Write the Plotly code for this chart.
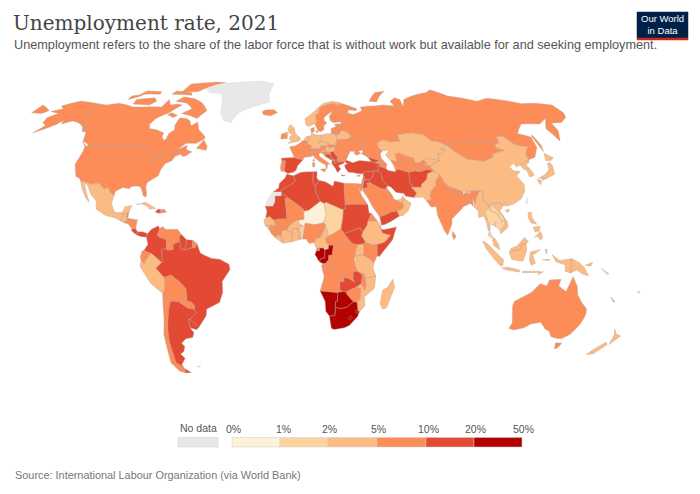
import numpy as np
import plotly.graph_objects as go

# Unemployment rate 2021, read by colour from the picture (percent)
iso_codes = ['USA','CAN','MEX','GTM','BLZ','HND','SLV','NIC','CRI','PAN','CUB','HTI','DOM',
             'COL','VEN','GUY','SUR','ECU','PER','BOL','CHL','ARG','PRY','URY','BRA',
             'ISL','GBR','IRL','FRA','ESP','PRT','BEL','NLD','DEU','CHE','AUT','ITA','DNK','NOR','SWE','FIN',
             'EST','LVA','LTU','BLR','POL','CZE','SVK','HUN','UKR','MDA','ROU','BGR','GRC','ALB','SRB','BIH',
             'HRV','SVN','MNE','MKD','CYP','RUS','GEO','ARM','AZE','TUR','SYR','LBN','ISR','JOR','IRQ','KWT',
             'SAU','ARE','OMN','YEM','IRN','AFG','PAK','IND','BGD','NPL','BTN','LKA','CHN','MNG','KAZ','UZB',
             'TKM','KGZ','TJK','MMR','THA','LAO','VNM','KHM','MYS','IDN','PNG','PHL','JPN','PRK','KOR',
             'MAR','DZA','TUN','LBY','EGY','SDN','SSD','ERI','ETH','DJI','SOM','KEN','UGA','TZA','RWA','COD',
             'COG','GAB','GNQ','CMR','CAF','TCD','NER','NGA','BEN','TGO','GHA','BFA','CIV','LBR','SLE','GIN',
             'GNB','SEN','MLI','MRT','AGO','ZMB','MWI','MOZ','ZWE','BWA','NAM','ZAF','LSO','SWZ','MDG',
             'AUS','NZL','NCL','SLB','FJI']
rates = [5.4,7.5,4.4,3.0,7.0,7.0,6.0,6.0,16.0,13.0,2.0,14.0,7.0,
         13.9,6.0,15.0,10.5,5.5,4.8,7.0,9.0,10.9,7.0,10.5,13.3,
         6.0,4.5,6.2,7.9,14.8,6.6,6.3,4.2,3.6,5.3,6.2,9.5,5.0,4.4,8.7,7.6,
         6.2,7.5,7.1,4.8,3.4,2.8,6.8,4.1,9.8,3.3,5.6,5.3,14.8,12.0,11.0,15.0,
         7.6,4.8,16.0,16.0,7.5,5.2,11.0,12.0,6.0,12.0,10.5,12.0,5.0,19.0,14.0,3.0,
         7.4,3.1,3.0,13.4,11.5,13.0,4.4,6.0,5.2,5.1,3.4,5.4,4.6,6.0,4.9,6.0,
         5.0,4.5,7.0,3.0,1.0,1.3,2.4,1.2,4.6,4.4,2.7,2.5,2.8,2.6,3.6,
         12.0,14.0,16.0,19.0,7.4,19.0,12.7,6.0,3.7,4.0,19.0,5.7,2.9,2.6,1.5,5.4,
         23.0,21.5,8.0,3.9,6.5,1.9,0.7,9.8,1.5,3.9,4.7,4.8,3.5,4.0,5.0,6.3,
         3.2,3.7,7.7,11.0,8.5,13.0,6.0,3.8,5.2,24.0,21.0,33.6,24.0,23.0,2.6,
         5.1,4.1,6.0,1.5,4.5]
no_data_codes = ['GRL', 'ESH', 'TWN', 'FLK']

# legend bins
bin_edges = [0, 1, 2, 5, 10, 20, 50]
bin_labels = ['0%', '1%', '2%', '5%', '10%', '20%', '50%']
bin_colors = ['#fef0d9', '#fdd49e', '#fdbb84', '#fc8d59', '#e34a33', '#b30000']
no_data_color = '#e8e8e8'

# rough country outlines, lon,lat
outlines = {
 'USA': ["-124.7,48.4 -123,49 -110,49 -95,49 -89.5,48 -88,48.2 -84.5,46.5 -82.5,45.3 -82.4,43 -83,42 -79,42.8 -79,43.5 -76.5,44 -75,45 -71.5,45 -70,46.7 -68.3,47.3 -67,45 -70,43.7 -70.7,42 -74,40.7 -75.5,38 -76,35 -78,33.9 -81,32 -81.3,30 -80,26.8 -80.3,25.3 -81.7,26 -82.8,28 -84,30 -86,30.4 -89,30.2 -90,29.2 -93.5,29.7 -97,28 -97.2,26 -99.5,27.5 -101.5,29.8 -103,29 -104.7,30 -106.5,31.8 -108.2,31.5 -111,31.3 -114.8,32.5 -117.1,32.5 -118.5,34 -120.6,34.6 -122.5,37.5 -124.3,40.4 -124,44 -124,46.3",
         "-141,69.6 -141,60.3 -137.5,58.9 -135,59.5 -131,55.5 -133,55.5 -136,58 -140,59.7 -146,60.8 -151,59.3 -152,61 -154,59 -158,57 -163,55 -160,58.5 -164,60 -165,62.5 -161,64.5 -168,65.6 -162,67 -166,68.5 -157,71.2 -150,70.5"],
 'CAN': ["-141,69.6 -135,69 -128,70 -115,68 -108,68 -95,68 -94,72 -90,69 -85,69.5 -81.5,69 -87,65 -93,62 -94.5,59 -92.5,57 -88,56.5 -82.5,55 -82,53 -80,51.3 -79,52 -79,54.5 -76.7,56.5 -78,58.8 -77.5,62.4 -73,62 -70,61 -67.5,58.4 -64.5,60.3 -61.5,56.5 -56,53 -56,52 -60,50 -66,50 -70,47 -65,49 -64.5,47 -61,46 -64,44 -66,44 -67,45 -68.3,47.3 -70,46.7 -71.5,45 -75,45 -76.5,44 -79,43.5 -79,42.8 -83,42 -82.4,43 -82.5,45.3 -84.5,46.5 -88,48.2 -89.5,48 -95,49 -110,49 -123,49 -125,50 -128,51 -130,54.5 -131,55.5 -135,59.5 -137.5,58.9 -141,60.3",
         "-62,66 -66,62 -72,63.5 -78,64.5 -73,67 -79,70 -88,71 -85,73.5 -76,72.5 -68,70",
         "-117,69.5 -105,69 -102,71 -106,73 -118,72", "-90,76.5 -78,76.5 -62,82.5 -70,83 -90,81.5",
         "-124,72 -118,74 -117,75 -125,74", "-96,75 -80,74.5 -82,76 -95,77", "-59,47.7 -53,46.7 -53,48.5 -56,51.5",
         "-128,50.7 -123.5,48.4 -125,48.7", "-120,75 -105,75 -106,76.5 -118,77", "-85,65 -80,63.5 -82,62.5 -87,64"],
 'MEX': ["-117.1,32.5 -114.8,32.5 -111,31.3 -108.2,31.5 -106.5,31.8 -104.7,30 -103,29 -101.5,29.8 -99.5,27.5 -97.2,26 -97.8,22.5 -96,19 -94.5,18.2 -91.5,18.5 -90.5,21 -87,21.5 -88,18.5 -89,17.9 -91,17.8 -92,14.6 -95,16 -100,17 -105.5,20 -106,23.5 -109.5,26.5 -113,31 -114.8,31.8 -112,27 -109.7,23 -112,25 -115,29"],
 'GTM': ["-92,14.6 -91,17.8 -89,17.9 -89,15.9 -88.2,15.7 -89.3,14.4 -90,13.7"],
 'BLZ': ["-89,17.9 -88,18.5 -88.2,16 -89,15.9"],
 'HND': ["-88.2,15.7 -83.2,15 -84.5,14.7 -87,13 -87.8,13.3 -89.3,14.4"],
 'SLV': ["-89.3,14.4 -87.8,13.3 -90,13.7"],
 'NIC': ["-83.2,15 -83.7,11 -85.7,11 -87.6,13 -87,13 -84.5,14.7"],
 'CRI': ["-83.7,11 -82.6,9.6 -83,8.2 -85.7,10 -85.7,11"],
 'PAN': ["-82.6,9.6 -79.5,9.5 -77.4,8.7 -77.9,7.2 -80.5,7.3 -83,8.2"],
 'CUB': ["-84.9,21.9 -80,23 -74.2,20.2 -77.7,19.9 -78,20.7 -82,22.4"],
 'HTI': ["-74.4,18.5 -72,18 -71.7,19.7 -73,19.9"],
 'DOM': ["-71.7,19.7 -72,18 -68.5,18.5 -69.5,19.7"],
 'COL': ["-77.4,8.7 -75.5,10.7 -72,12.3 -71.3,11 -72.4,8 -71,7 -67.5,6 -67.5,2 -70,1.5 -69.5,-4.3 -70,-4.3 -70.5,-3.8 -75.2,-0.1 -77.5,0.4 -78.8,1.4 -77,3.8 -77.9,7.2"],
 'VEN': ["-71.3,11 -70,12 -68,10.6 -62,10.7 -60,8.5 -61,7 -60.7,5.2 -64,4 -64,1.5 -67,1.2 -67.5,2 -67.5,6 -71,7 -72.4,8"],
 'GUY': ["-60,8.5 -57.2,6 -57.3,3.3 -58.5,1.3 -60,2 -60.7,5.2 -61,7"],
 'SUR': ["-57.2,6 -54,5.8 -54.3,2.3 -56,1.9 -58.5,1.3 -57.3,3.3"],
 'ECU': ["-80.9,-2 -80,0.8 -78.8,1.4 -77.5,0.4 -75.2,-0.1 -78.3,-3.4 -79,-5 -80.4,-3.4"],
 'PER': ["-80.4,-3.4 -79,-5 -78.3,-3.4 -75.2,-0.1 -70.5,-3.8 -70,-4.3 -73,-7 -70.6,-9.5 -69,-11 -69,-12.5 -69,-16 -69.6,-17.3 -70.4,-18.3 -76,-14 -81.2,-6"],
 'BOL': ["-69,-11 -65.3,-10 -60.5,-13.7 -58,-16.3 -58,-20 -62.6,-22.2 -66.2,-21.8 -67.2,-22.8 -68.5,-19 -69.6,-17.3 -69,-16 -69,-12.5"],
 'CHL': ["-70.4,-18.3 -69.6,-17.3 -68.5,-19 -67.2,-22.8 -68.3,-26 -70.3,-33 -71.5,-39 -71.7,-44 -72,-50 -69,-52 -68.6,-52.5 -68.6,-54.9 -72,-54 -75,-50 -74,-43 -73.5,-37 -71.5,-30"],
 'ARG': ["-66.2,-21.8 -62.6,-22.2 -57.7,-25.2 -54.6,-25.6 -53.8,-27.2 -57.6,-30.2 -58.5,-30.2 -58.3,-34 -56.8,-36.3 -58,-38.4 -62,-39 -65,-41 -63.7,-42.5 -65.3,-45 -67.5,-46 -65.7,-48 -69,-51 -68.4,-52.3 -69,-52 -72,-50 -71.7,-44 -71.5,-39 -70.3,-33 -68.3,-26 -67.2,-22.8",
         "-68.6,-52.7 -65.2,-54.7 -68.6,-54.9"],
 'PRY': ["-62.6,-22.2 -58,-20 -58,-22 -55.8,-22.3 -54.3,-24 -54.6,-25.6 -57.7,-27.3 -58.2,-27.2 -57.7,-25.2"],
 'URY': ["-58.5,-30.2 -57.6,-30.2 -53.4,-33.7 -55,-34.9 -58.3,-34"],
 'BRA': ["-51.7,4.2 -50,0 -48,-1 -44,-2.5 -40,-2.9 -35.3,-5.2 -34.8,-7.5 -39,-13 -39,-18 -41,-22.5 -48,-25.5 -48.7,-28.5 -53.4,-33.7 -57.6,-30.2 -53.8,-27.2 -54.6,-25.6 -54.3,-24 -55.8,-22.3 -58,-22 -58,-20 -58,-16.3 -60.5,-13.7 -65.3,-10 -69,-11 -70.6,-9.5 -73,-7 -70,-4.3 -69.5,-4.3 -70,1.5 -67.5,2 -67,1.2 -64,1.5 -64,4 -60.7,5.2 -60,2 -58.5,1.3 -56,1.9 -54.3,2.3 -52.7,2.3"],
 'ISL': ["-24,65.5 -22,66.4 -16,66.5 -13.6,65 -18,63.4 -22.7,63.9"],
 'GBR': ["-5.7,50 -1,50.7 1.4,51.2 1.7,52.7 0,53.5 -1.7,55.5 -2,57.6 -4,57.7 -3,58.6 -5,58.6 -6,56.5 -5,55 -3,54 -4.5,53.3 -5,51.7 -3,51.4",
         "-7.3,55.2 -8,54.5 -6.3,54.1 -5.5,54.5 -6,55.2"],
 'IRL': ["-10,52 -6.3,52.2 -6,53.8 -6.3,54.1 -8,54.5 -7.3,55.2 -10,54.2"],
 'FRA': ["-1.8,43.4 -4.7,48.4 -1.5,48.7 1.5,50.1 2.6,51 4.2,50 6,49.5 8.2,49 7.6,47.6 6,46.3 7,45.9 7,45.5 7.5,43.8 4,43.5 3.1,42.4 0.7,42.7",
         "8.6,42 9.4,43 9.3,41.4", "-54,5.8 -51.7,4.2 -52.7,2.3 -54.3,2.3"],
 'ESP': ["-9.2,43 -1.8,43.4 0.7,42.7 3.1,42.4 0,39.5 -0.7,37.7 -2,36.8 -5.4,36.1 -7.4,37.2 -7,39 -6.8,41.9 -8.8,41.9"],
 'PRT': ["-8.8,41.9 -6.8,41.9 -7,39 -7.4,37.2 -9,37 -9.5,38.8"],
 'BEL': ["2.6,51 4,51.4 6,50.7 6,49.5 4.2,50"],
 'NLD': ["4,51.4 4.8,53 7,53.3 7,52.2 6,50.7"],
 'DEU': ["6,50.7 7,52.2 7,53.3 8.7,54 8.6,54.9 11,54 14.2,53.9 14.7,51 12.2,50.3 13.8,48.7 13,47.5 9.6,47.5 7.6,47.6 8.2,49 6,49.5"],
 'CHE': ["6,46.3 7.6,47.6 9.6,47.5 10.4,46.8 8.5,46 7,45.9"],
 'AUT': ["9.6,47.5 13,47.5 13.8,48.7 17,48.7 16.1,46.9 13.7,46.5 12.5,46.7 10.4,46.8"],
 'ITA': ["7,45.9 8.5,46 10.4,46.8 12.5,46.7 13.7,46.5 13.7,45.6 12.2,45.2 12.5,44 16,41.8 18.5,40.2 17,40.5 16.6,39 16,38 15.7,40 12.5,41.5 10.2,43 8.8,44.4 7.5,43.8 7,45.5",
         "12.5,38 15.6,38.2 15,36.7", "8.3,41 9.7,41 9.5,39.1 8.5,39"],
 'DNK': ["8.6,54.9 8.2,57 10.6,57.7 10.3,55.6", "11,55.7 12.6,56 12.2,54.9"],
 'NOR': ["5.2,59 7,58 10.6,59.3 11.7,59 12.3,61 12,63.5 14,64.5 16,68 20.5,69 25.7,69.9 29,69 31,70.3 25,71.1 18,69.7 12,66 8,63.5 5,62"],
 'SWE': ["11.2,59 12.7,56 14.3,55.5 16.5,56.5 16.7,58.5 19,59.8 17.3,61 17.5,62.5 21,64.5 24,65.8 23.7,68 20.5,69 16,68 14,64.5 12,63.5 12.3,61 11.7,59"],
 'FIN': ["24,65.8 21,63 21.3,61 23,59.9 28,60.5 31.5,62.9 29,66 29,69 25.7,69.9 20.5,69 23.7,68"],
 'EST': ["23.5,59.2 28,59.4 27.5,57.6 24.4,58"],
 'LVA': ["21,57 24.4,58 27.5,57.6 28.2,56.1 26.5,55.7 21,56.2"],
 'LTU': ["21,56.2 26.5,55.7 25.7,54.3 23.5,54 21,55.2"],
 'BLR': ["23.5,54 25.7,54.3 26.5,55.7 28.2,56.1 31,55 32.7,53.4 30.8,52 23.6,51.6"],
 'POL': ["14.2,53.9 18.5,54.7 19.5,54.4 23.5,54 23.6,51.6 22.5,49.1 19,49.4 18.8,49.7 14.7,51"],
 'CZE': ["12.2,50.3 14.7,51 18.8,49.7 17,48.7 13.8,48.7"],
 'SVK': ["17,48.7 18.8,49.7 19,49.4 22.5,49.1 22.2,48.4 18.8,47.8"],
 'HUN': ["16.1,46.9 17,48.7 18.8,47.8 22.2,48.4 21,46.2 18.9,45.9 16.1,46.4"],
 'UKR': ["23.6,51.6 30.8,52 32.7,52.2 34,52.3 40,49.7 38.2,47.1 35,46.2 36.5,45.3 33.6,44.4 32.5,45.5 33.5,46 30.8,46.4 29.6,45.3 28.2,45.5 26.6,48.3 22.9,48 22.2,48.4 22.5,49.1"],
 'MDA': ["26.6,48.3 30.2,46.4 28.2,45.5"],
 'ROU': ["22.2,48.4 22.9,48 26.6,48.3 28.2,45.5 29.6,45.3 28.6,43.8 27,44.1 22.7,43.8 21.5,44.8 21,46.2"],
 'BGR': ["22.7,43.8 27,44.1 28.6,43.8 27.6,42.5 28,42 26.3,41.5 22.9,41.3 22.4,42.3"],
 'GRC': ["20,39.6 20.9,40.9 22.9,41.3 26.3,41.5 26,40.8 23.5,40 22.8,39.5 24,38 23,37.5 22.5,36.5 21.6,37 21,38.5", "23.6,35.5 26.3,35.2 24.6,34.9"],
 'ALB': ["19.4,41.4 19.4,42 20.6,42 20.9,40.9 20,39.6 19.3,40.5"],
 'SRB': ["21,46.2 21.5,44.8 22.7,43.8 22.4,42.3 20.6,42 20.3,42.7 19.3,43 19,44.8 18.9,45.9"],
 'BIH': ["15.8,45 19,44.8 19.3,43 18.5,42.6 16,44.3"],
 'HRV': ["13.6,45.5 16.1,46.4 18.9,45.9 19,44.8 15.8,45 16,44.3 18.5,42.6 16,43.5 14.5,45.2"],
 'SVN': ["13.7,45.6 13.7,46.5 16.1,46.9 16.1,46.4 13.6,45.5"],
 'MNE': ["18.5,42.6 19.3,43 20.3,42.7 19.4,42"],
 'MKD': ["20.6,42 22.4,42.3 22.9,41.3 20.9,40.9"],
 'CYP': ["32.3,35 34.6,35.7 33.7,34.7"],
 'RUS': ["28,60.5 31.5,62.9 29,66 29,69 31,70 33,69.4 41,67 40,66 35,66.5 34,65 37,64 40,64.7 44,66 44,68 54,68.5 60,69 68,68.5 67,71 72,73 75,72 74,68 78,72 86,74 100,76 105,77.7 113,74 130,71 140,72.7 160,69.7 170,70 180,69 180,65 177,62.5 170,60 163,59.7 162,56 156.7,51 155.7,57 163,62 155,59.3 143,59.3 135.2,54.7 141.3,53 140,48 135,43.5 131,42.5 130.7,42.3 131,45 135,48.4 130.7,48.9 127.5,50 125,53.2 120.8,53.3 119.3,50 116.7,49.8 107,50 102,51.4 98,50 87.8,49.2 83,51 80,51 77,54 71,55 61,54 61,51 55,50.6 51,51.7 47,50 47,48 49,46.4 47.5,45 47.5,43 48.5,41.8 46.7,41.8 40,43.5 37,45 38,47 38.2,47.1 40,49.7 34,52.3 32.7,52.2 30.8,52 32.7,53.4 31,55 28.2,56.1 27.5,57.6 28,59.4",
         "-180,65 -172.5,64.5 -170,66 -180,69", "20,54.5 22.7,54.4 21,55.2", "52,71 57,70.7 68,76.8 60,76", "142,46 143.5,49 143,54 142,53"],
 'GEO': ["40,43.5 46.7,41.8 43.5,41.1 41.5,41.5"],
 'ARM': ["43.5,41.1 45,41 46.5,39 44.8,39.7"],
 'AZE': ["46.7,41.8 48.5,41.8 50,40.3 49,38.4 46.5,39 45,41"],
 'TUR': ["26.3,41.5 28,42 31,41 35,42 41.5,41.5 43.5,41.1 44.8,39.7 44.5,37.3 42,37.2 36.5,36.7 36,36 32.5,36.1 30.5,36.5 28,36.7 26.5,38.5 26.2,40 28,40.5"],
 'SYR': ["36,36 36.5,36.7 42,37.2 41,34.5 38.8,33.4 36,33 36.6,34.2 35.9,34.6 35.9,35"],
 'LBN': ["35.9,34.6 36.6,34.2 35.7,33.1 35.1,33.1"],
 'ISR': ["35.1,33.1 35.7,33.1 35.5,31.5 35,29.5 34.3,31.3"],
 'JOR': ["35.5,31.5 35.7,32.7 36,33 38.8,33.4 39,32 37,31.5 38,30.4 36,29.2 35,29.5"],
 'IRQ': ["38.8,33.4 41,34.5 42,37.2 44.5,37.3 46,35.7 46,33 48.6,30.4 47.7,30 47,29 44.7,29.2 39,32"],
 'KWT': ["47.7,30 48.4,28.6 47,29"],
 'SAU': ["34.7,29.3 36,29.2 38,30.4 37,31.5 39,32 44.7,29.2 47,29 48.4,28.6 50,26.5 50.8,24.8 51.6,24 55.2,22.7 55.7,22 55,20 52,19 49,18.7 46.5,17.5 43.3,16.5 42.8,16.4 41,18.8 39,21.5 37.5,24.5 35,28"],
 'ARE': ["51.6,24 54,24.2 56,26 56.4,24.8 55.2,22.7"],
 'OMN': ["55.2,22.7 56.4,24.8 59.8,22.5 57.8,19 55,17 53,16.7 52,19 55,20 55.7,22"],
 'YEM': ["42.8,16.4 43.3,16.5 46.5,17.5 49,18.7 52,19 53,16.7 48,14 45,12.8 43.5,12.7"],
 'IRN': ["44.8,39.7 46.5,39 49,38.4 50,37.4 54,36.9 54,37.4 56,38 61,36.6 61,34 60.6,31.5 61.8,30.8 60.9,29.8 63.3,27.2 61.6,25.2 57.3,25.8 56.5,27 52.5,27.5 50,30 48.6,30.4 46,33 46,35.7 44.5,37.3"],
 'AFG': ["61,36.6 64.8,37.2 68,37 71.5,37.9 74.9,37.3 71.2,36 70,33.5 66.5,31 66.3,29.9 60.9,29.8 61.8,30.8 60.6,31.5 61,34"],
 'PAK': ["60.9,29.8 66.3,29.9 66.5,31 70,33.5 71.2,36 74.9,37.3 77.8,35.5 74.5,32.5 74.6,31 71,27.8 70,25.5 71,24.4 68,23.7 66.5,25.4 61.6,25.2 63.3,27.2"],
 'IND': ["68,23.7 71,24.4 70,25.5 71,27.8 74.6,31 74.5,32.5 77.8,35.5 79,32.5 81,30.2 80,28.8 88.1,26.4 88.9,27.3 92,26.8 92,27.8 92,28 97,28.3 94.5,25 93.2,22 92.4,24.9 89,25.9 88.2,24.5 89,21.8 87,21 86,20 80.3,15.5 80,13 77.5,8 76,10 73,17 72.8,21 70,20.9 69,22.3"],
 'BGD': ["88.2,24.5 89,25.9 92.4,24.9 92.4,21 91,22.5 89,21.8"],
 'NPL': ["80,28.8 81,30.2 88.1,27.9 88.1,26.4"],
 'BTN': ["88.9,27.3 92,26.8 92,27.8 89.5,28.1"],
 'LKA': ["79.8,8 80.2,9.8 81.8,7.5 80.6,6"],
 'CHN': ["73.7,39.5 80,42 80.3,45 82.5,45.2 85.5,47 83,47.2 87.8,49.2 91,46 96,42.7 105,41.7 111,43.5 112,45 119.8,46.7 116,47.8 116.7,49.8 119.3,50 120.8,53.3 125,53.2 127.5,50 130.7,48.9 135,48.4 131,45 130.7,42.3 128,41.5 124.3,40 121.5,39 121,40.8 117.7,39 119,37.3 122.5,37 119.5,35 121.9,31 121,28 118,24.5 114,22.3 110,21.3 108,21.6 106.7,22.8 102,22.4 101.5,21.2 99.5,22 97.7,24 98.7,27.5 97,28.3 92,28 89.5,28.1 88.1,27.9 81,30.2 79,32.5 77.8,35.5 74.9,37.3",
         "108.7,19.3 110.5,20 111,19.6 109.6,18.2"],
 'MNG': ["87.8,49.2 98,50 102,51.4 107,50 116.7,49.8 116,47.8 119.8,46.7 112,45 111,43.5 105,41.7 96,42.7 91,46"],
 'KAZ': ["47,50 51,51.7 55,50.6 61,51 61,54 71,55 77,54 80,51 83,51 87.8,49.2 83,47.2 85.5,47 82.5,45.2 80.3,45 80,42 74.2,43 70.9,42.2 68,41 66,41 66,43 61,44.4 58.5,45.5 56,45 56,41.3 54,42 52.5,42 50.3,44.5 51,45 53,46.9 49,46.4 47,48"],
 'UZB': ["56,41.3 56,45 58.5,45.5 61,44.4 66,43 66,41 68,41 70.9,42.2 73,40.8 70.5,40.2 68.5,39.5 67.5,37.2 66,37.4 62,40 61,41.5 58.7,42.8 57,41.3"],
 'TKM': ["52.5,42 54,42 56,41.3 57,41.3 58.7,42.8 61,41.5 62,40 66,37.4 64.8,37.2 61,36.6 56,38 54,37.4 53.8,39.5"],
 'KGZ': ["70.9,42.2 74.2,43 80,42 73.7,39.5 70.5,40.2 73,40.8"],
 'TJK': ["67.5,37.2 68.5,39.5 70.5,40.2 73.7,39.5 74.9,37.3 71.5,37.9 68,37"],
 'MMR': ["92.4,21 93.2,22 94.5,25 97,28.3 98.7,27.5 97.7,24 99.5,22 101.1,21.6 100,20.3 97.5,18.5 98.5,16 99.5,11 98.6,10 98,14 97,16.8 94.3,16 94.5,19"],
 'THA': ["100,20.3 101.1,21.6 100.5,19.5 104.5,17.5 105.6,15 102.5,14 102.5,12 100.9,12.7 100,13.4 99.3,10 100.5,7.3 102,6.2 100.8,6.2 98.3,8 99.5,11 98.5,16 97.5,18.5"],
 'LAO': ["101.5,21.2 102,22.4 104,20 106.7,17 107.6,15 105.6,14 105.6,15 104.5,17.5 100.5,19.5 101.1,21.6"],
 'VNM': ["102,22.4 106.7,22.8 108,21.6 105.8,19 109,14 109,11.7 106.7,10 105,8.7 104.5,10.4 106,11 107.6,13 107.6,15 106.7,17 104,20"],
 'KHM': ["102.5,14 105.6,14 107.6,15 107.6,13 106,11 104.5,10.4 102.5,12"],
 'MYS': ["100.8,6.2 102,6.2 103.4,4 104.2,1.4 101.3,3 100.4,5.5", "109.6,2 111.3,2.6 113,3.2 115.5,5.5 117,7 119,5.2 117.6,4.2 115.7,4.2 114.5,1.5 110,0.9"],
 'IDN': ["109,1 110,0.9 114.5,1.5 115.7,4.2 117.6,4.2 118,2 117.5,0 116,-3.8 114,-3.5 110.3,-3 109,0", "95.3,5.5 98,4 103.5,-1 106,-3 105.8,-5.8 104.5,-5.8 101,-2.5 97,2",
         "105.3,-6.8 108.5,-6.5 114.5,-7.7 114.5,-8.7 108,-7.8", "119.8,0.5 125,1.5 121,-1 122.5,-4.7 120.4,-5.6 119.3,-3.4",
         "131,-0.8 135,-3.4 141,-2.6 141,-9.1 138,-8.3 138,-5.5 133,-4", "124,-10 127,-8.5 125,-8.7", "116,-8.4 125,-8.3 125,-8.8 116,-9", "127.5,1.8 128.5,1.5 128,-0.5", "126,-3 130,-3 129,-3.6"],
 'PNG': ["141,-2.6 145,-4.3 147.7,-6.5 150.5,-10.5 147,-9.5 144,-7.7 141,-9.1", "148.3,-5.6 152,-4.2 151,-6"],
 'PHL': ["120.5,18.5 122.2,18.4 122,16 124,13 121,13.7 120,16", "122,7 125.5,9.8 126.5,7.5 125.5,5.7 123.5,7.6", "122,11.8 125.5,12 125,10 122.6,9.5"],
 'JPN': ["130.9,33.9 135.5,35.6 139,38 140,40.7 141.5,41.2 142,39.5 140.7,35.7 136.8,34.4 135,33.6 132,34", "140,42 141.7,45.4 145.3,43.3 143,42", "130,33.5 132,33 131,31 130,32", "132.5,34 134.5,34 133,32.8"],
 'PRK': ["124.3,40 128,41.5 130.7,42.3 129.7,41 127.5,39.8 128.4,38.6 126.5,37.7 125,38"],
 'KOR': ["126.5,37.7 128.4,38.6 129.4,36 129,35.1 126.4,34.5"],
 'MAR': ["-5.9,35.8 -2.2,35.1 -1.2,32.5 -3.7,30.9 -8.7,28.7 -8.7,27.7 -13,27.7 -10,29.5 -9.8,31.5 -6.8,34"],
 'DZA': ["-2.2,35.1 2,36.7 8.6,36.9 8.2,33 9.5,30 9.9,27 12,23.5 5.8,19.4 3.3,19 3.2,19.8 -4.8,25 -8.7,27.3 -8.7,28.7 -3.7,30.9 -1.2,32.5"],
 'TUN': ["8.6,36.9 10.8,37 10.5,34 11.5,33 9.5,30 8.2,33"],
 'LBY': ["9.5,30 11.5,33 15,32.3 19,30.3 20,32.7 25,31.7 25,22 25,20 24,20 24,19.5 15,23 14,22.5 12,23.5 9.9,27"],
 'EGY': ["25,31.7 31,31.5 34.3,31.3 34.9,29.5 34,27.8 32.6,29.9 34,26 36.9,22 25,22"],
 'SDN': ["24,20 25,20 25,22 36.9,22 37.4,18 38.6,18 36.5,14.3 36,12.5 34,10 33,10 32.5,11.5 27,9.7 24,8.8 22.5,11 23.5,15.7 24,19.5"],
 'SSD': ["24,8.8 27,9.7 32.5,11.5 33,10 34,10 33,7.8 35,5 34,4.2 31,3.7 28,4.4 27.5,5"],
 'ERI': ["36.5,14.3 38.6,18 43,12.7 41,14.5 37.5,14.5"],
 'ETH': ["36.5,14.3 37.5,14.5 41,14.5 42.4,12.5 43,11 44,9 48,8 45,5 42,4 41,3.9 39,3.6 35.9,4.5 35,5 33,7.8 34,10 36,12.5"],
 'DJI': ["42.4,12.5 43.3,12.5 43,11"],
 'SOM': ["43,11 44.5,10.5 51.2,11.8 49,6 42,-1.7 41,-1.3 41,3.9 42,4 45,5 48,8 44,9"],
 'KEN': ["34,4.2 35,5 35.9,4.5 39,3.6 41,3.9 41,-1.3 39.3,-4.7 37.6,-3 34,-1 34,1"],
 'UGA': ["31,3.7 34,4.2 34,1 34,-1 29.6,-1.4 30,1.5"],
 'TZA': ["34,-1 37.6,-3 39.3,-4.7 39,-7 40.5,-10.5 35,-11.5 34.5,-9.5 32.9,-9.4 30.7,-8.2 29.4,-4.5 30.5,-2.5 30.5,-1.1"],
 'RWA': ["29.6,-1.4 30.5,-1.1 30.5,-2.5 29.4,-4.5 29,-2.8"],
 'COD': ["12.4,-6 13,-4.8 14.5,-4.7 16,-3 16,-1 17.7,-1 18.5,3.5 19,4.2 24,4.5 28,4.4 31,3.7 30,1.5 29.6,-1.4 29,-2.8 29.4,-4.5 30.7,-8.2 28.7,-8.8 28.8,-12 29.8,-13.4 27,-11.8 24,-11 22,-11 21.7,-7.3 17.6,-8 16.5,-5.9"],
 'COG': ["11.2,-4 13,-4.8 14.5,-4.7 16,-3 16,-1 17.7,-1 18.5,3.5 16,3.5 16,1.9 14,1.5 14,-2.3 12,-2.5"],
 'GAB': ["9,-0.7 9.7,1 11.3,1 11.3,2.2 13.3,2.2 14,1.5 14,-2.3 12,-2.5 11.2,-4"],
 'GNQ': ["9.7,1 9.7,2.2 11.3,2.2 11.3,1"],
 'CMR': ["8.5,4.7 9.7,2.2 11.3,2.2 13.3,2.2 16,1.9 16,3.5 15,4.5 14.2,6.5 15.6,7.5 15.6,10 14,12.8 14.5,13 14,11 13,9 11.5,6.7 10.2,6.9 8.8,5"],
 'CAF': ["14.2,6.5 15,4.5 16,3.5 18.5,3.5 19,4.2 24,4.5 28,4.4 27.5,5 24,8.8 22.5,11 19,9 15.6,7.5"],
 'TCD': ["14,12.8 15.6,10 15.6,7.5 19,9 22.5,11 23.5,15.7 24,19.5 15,23 14,22.5 15,17 13.5,14"],
 'NER': ["3.3,19 5.8,19.4 12,23.5 14,22.5 15,17 13.5,14 13.6,13.7 9,12.8 4,13.5 3.6,11.7 2.8,12.4 1,13 0.2,14.9 3.3,15.3"],
 'NGA': ["2.7,6.3 3.6,11.7 4,13.5 9,12.8 13.6,13.7 14,12.8 14.5,13 14,11 13,9 11.5,6.7 10.2,6.9 8.8,5 8.5,4.7 6,4.3 4.4,6.3"],
 'BEN': ["1.6,6.2 2.7,6.3 3.6,11.7 2.8,12.4 0.9,11 1.6,9"],
 'TGO': ["1.2,6.1 1.6,6.2 1.6,9 0.9,11 0,11 0.5,8"],
 'GHA': ["-3,5.1 1.2,6.1 0.5,8 0,11 -2.8,11 -2.8,9"],
 'BFA': ["-5.5,10.4 -2.8,9 -2.8,11 0,11 0.9,11 2.8,12.4 1,13 0.2,14.9 -2,14.2 -4.5,12"],
 'CIV': ["-7.5,4.4 -3,5.1 -2.8,9 -5.5,10.4 -8,10.3 -8.3,7.5"],
 'LBR': ["-11.4,6.9 -7.5,4.4 -8.3,7.5 -10,8.4"],
 'SLE': ["-13.2,8.5 -11.4,6.9 -10,8.4 -11,10 -12.4,9.9"],
 'GIN': ["-15,11 -13.2,8.5 -12.4,9.9 -11,10 -10,8.4 -8.3,7.5 -8,10.3 -8.5,12 -11.4,12.4 -13.7,12.6"],
 'GNB': ["-16.7,12.4 -13.7,12.6 -15,11"],
 'SEN': ["-17.5,14.7 -16.5,16 -14.5,16.6 -12.2,14.8 -11.4,12.4 -13.7,12.6 -16.7,12.4"],
 'MLI': ["-12.2,14.8 -11.4,12.4 -8.5,12 -8,10.3 -5.5,10.4 -4.5,12 -2,14.2 0.2,14.9 3.3,15.3 3.3,19 3.2,19.8 -4.8,25 -6.6,25 -5.5,15.5 -10,15.4"],
 'MRT': ["-17,21.3 -13,21.3 -12,23.4 -12,26 -8.7,26 -8.7,27.3 -4.8,25 -6.6,25 -5.5,15.5 -10,15.4 -12.2,14.8 -14.5,16.6 -16.5,16 -16,19"],
 'AGO': ["12.4,-6 16.5,-5.9 17.6,-8 21.7,-7.3 22,-11 24,-11 24,-13 22,-13 22,-16.5 23.4,-17.6 20,-18 11.8,-17.3 13.5,-12 13.8,-10.7"],
 'ZMB': ["22,-13 24,-13 24,-11 27,-11.8 29.8,-13.4 28.8,-12 28.7,-8.8 30.7,-8.2 32.9,-9.4 33.5,-11 33,-14 30.3,-15.6 28,-16.5 25.3,-17.8 23.4,-17.6 22,-16.5"],
 'MWI': ["32.9,-9.4 34.5,-9.5 35,-11.5 35.8,-14.5 35,-17 33,-14 33.5,-11"],
 'MOZ': ["40.5,-10.5 35,-11.5 35.8,-14.5 35,-17 33,-14 30.3,-15.6 33,-16 32.8,-21 31.3,-22.4 32,-26 32.8,-26.8 35.5,-24 35,-20 40,-16"],
 'ZWE': ["25.3,-17.8 28,-16.5 30.3,-15.6 33,-16 32.8,-21 31.3,-22.4 29.4,-22.2 26,-19"],
 'BWA': ["20,-18 23.4,-17.6 25.3,-17.8 26,-19 29.4,-22.2 26,-24.7 23,-25.3 20,-24.8 20,-22 21,-22 21,-18"],
 'NAM': ["11.8,-17.3 20,-18 21,-18 21,-22 20,-22 20,-28.4 17,-28.7 15,-26.5 14.5,-22"],
 'ZAF': ["17,-28.7 20,-28.4 20,-24.8 23,-25.3 26,-24.7 29.4,-22.2 31.3,-22.4 32,-26 32.8,-26.8 32,-29 28,-33 25.5,-34 20,-34.8 18.4,-34.2"],
 'LSO': ["27,-29.6 28.6,-28.6 29.4,-29.6 28,-30.6"],
 'SWZ': ["31,-25.8 32,-26 32,-27.3 31,-27.3"],
 'MDG': ["49.3,-12 50.5,-15.5 47,-25 45,-25.5 43.5,-23 44.3,-17 47,-15.5"],
 'AUS': ["113.5,-24 114,-22 117,-20.5 122,-18 123.5,-16.5 126,-14 129.5,-15 130.5,-12.3 136.5,-12 135.7,-15 140,-17.5 141.7,-13 142.5,-10.8 145.3,-15 146.5,-19 149.5,-22.5 153,-25.5 153.5,-28 152.8,-32 150,-37 146.5,-39 143.5,-38.8 140,-38 137.5,-35.5 135,-34.7 131,-31.5 126,-32.3 123,-34 118,-35 115,-34.3 115.7,-31.7 114,-26.5",
         "144.7,-40.8 148.3,-41 147.5,-43.3 146,-43.5"],
 'NZL': ["172.7,-34.5 175.5,-37 178.5,-37.7 177,-39.5 175.3,-41.6 174.8,-39.8 174.6,-37.5", "172.7,-40.5 174.3,-41.7 172.7,-43.6 170.5,-46 167,-46.2 168.5,-44"],
 'NCL': ["164,-20 167,-22.3 166,-22.2"],
 'SLB': ["156.5,-7 161,-9.5 160,-9.8"],
 'FJI': ["177.3,-17.5 178.7,-17.8 178,-18.3"],
 'GRL': ["-73,78.2 -60,82 -32,83.6 -20,81.7 -22,75 -20,70.5 -32,68 -40,65 -43,60 -48,61 -52,65 -54,70 -58,75.5 -68,76"],
 'ESH': ["-13,27.7 -8.7,27.7 -8.7,26 -12,26 -12,23.4 -13,21.3 -17,21.3 -16,23.7 -14.5,26.2"],
 'TWN': ["120.1,23 121.5,25.2 121,22"],
 'FLK': ["-61,-51.8 -58,-51.4 -59,-52.3"],
}


def parse_ring(text):
    ring = [[float(v) for v in p.split(',')] for p in text.split()]
    # d3 wants outer rings clockwise
    pts = np.array(ring)
    area = np.sum(pts[:, 0] * np.roll(pts[:, 1], -1) - np.roll(pts[:, 0], -1) * pts[:, 1])
    if area > 0:
        ring = ring[::-1]
    return ring + [ring[0]]


def lonlat_of(codes):
    lons, lats = [], []
    for code in codes:
        for text in outlines[code]:
            ring = parse_ring(text)
            lons += [p[0] for p in ring] + [None]
            lats += [p[1] for p in ring] + [None]
    return lons, lats


# scattergeo has no need of the online base map, choropleth does
fig = go.Figure()
bins = np.digitize(rates, bin_edges) - 1
for i, color in enumerate(bin_colors):
    codes = [c for c, b in zip(iso_codes, bins) if b == i]
    lons, lats = lonlat_of(codes)
    fig.add_trace(go.Scattergeo(lon=lons, lat=lats, mode='lines', fill='toself', fillcolor=color,
                                line=dict(color='#b9a79c', width=0.4), name=bin_labels[i], hoverinfo='skip'))
lons, lats = lonlat_of(no_data_codes)
fig.add_trace(go.Scattergeo(lon=lons, lat=lats, mode='lines', fill='toself', fillcolor=no_data_color,
                            line=dict(color='#d5d5d5', width=0.4), name='No data', hoverinfo='skip'))

fig.update_geos(projection_type='robinson', domain=dict(x=[0, 1], y=[0, 0.976]),
                center=dict(lon=27, lat=0),
                showframe=False, showland=False, showocean=False, showlakes=False, showrivers=False,
                showcountries=False, showcoastlines=False, showsubunits=False,
                bgcolor='white', lonaxis_range=[-180, 180], lataxis_range=[-90, 90])

# legend
legend_left = [232, 280, 328, 377, 426, 474, 522]
shapes = []
W, H = 700, 494


def rect(x0, x1, y0, y1, fill, line='#aaaaaa'):
    return dict(type='rect', xref='paper', yref='paper', x0=x0 / W, x1=x1 / W, y0=1 - y1 / H, y1=1 - y0 / H,
                fillcolor=fill, line=dict(color=line, width=0.5))


shapes.append(rect(178, 218, 437.5, 447, no_data_color, '#cccccc'))
for i, c in enumerate(bin_colors):
    shapes.append(rect(legend_left[i], legend_left[i + 1], 437.5, 447, c, '#cfcfcf'))
# logo
shapes.append(rect(637, 688, 12, 38, '#002147', '#002147'))
shapes.append(rect(637, 688, 38, 40, '#ce261e', '#ce261e'))


def note(text, x, y, size, color='#555555', family='Liberation Sans', anchor='left'):
    return dict(text=text, x=x / W, y=1 - y / H, xref='paper', yref='paper', showarrow=False, xanchor=anchor,
                yanchor='middle', align='center' if anchor == 'center' else 'left',
                font=dict(size=size, color=color, family=family), borderpad=0)


annotations = [
    note('Unemployment rate, 2021', 12, 23, 20, '#444444', 'DejaVu Serif'),
    note('Unemployment refers to the share of the labor force that is without work but available for and seeking employment.',
         13, 45, 12.7, '#555555'),
    note('Our World<br>in Data', 662.5, 25, 9.5, 'white', 'Liberation Sans', 'center'),
    note('No data', 198, 428, 10.5, '#555555', 'Liberation Sans', 'center'),
    note('Source: International Labour Organization (via World Bank)', 14, 475, 10.9, '#777777'),
]
for lab, x in zip(bin_labels, [233, 283, 329, 378, 428, 475, 523]):
    annotations.append(note(lab, x, 428.5, 10.5, '#555555', 'Liberation Sans', 'center'))

fig.update_layout(width=W, height=H, margin=dict(l=0, r=0, t=0, b=0), paper_bgcolor='white',
                  shapes=shapes, annotations=annotations, showlegend=False)
fig.write_html("out.html", config=dict(displayModeBar=False), post_script="document.body.style.margin='0';")
